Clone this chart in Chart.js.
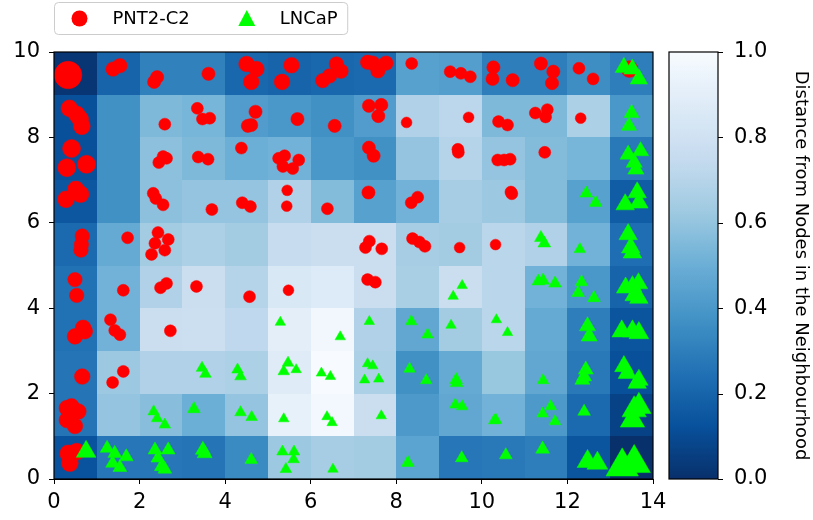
<!DOCTYPE html>
<html>
<head>
<meta charset="utf-8">
<script src="https://cdn.jsdelivr.net/npm/chart.js@4/dist/chart.umd.min.js"></script>
<style>
  html, body { margin: 0; padding: 0; background: #fff; }
</style>
</head>
<body>
<canvas id="chart" width="813" height="520"></canvas>
<script>
// Distance map, one row per node row, top row (y 9..10) first, 14 columns each
const distRows = [
  [0.02, 0.20, 0.31, 0.31, 0.21, 0.20, 0.21, 0.22, 0.44, 0.43, 0.30, 0.30, 0.36, 0.30],
  [0.12, 0.37, 0.55, 0.53, 0.42, 0.40, 0.37, 0.42, 0.68, 0.72, 0.55, 0.55, 0.67, 0.40],
  [0.12, 0.37, 0.58, 0.55, 0.50, 0.52, 0.40, 0.37, 0.60, 0.70, 0.60, 0.56, 0.53, 0.28],
  [0.15, 0.37, 0.58, 0.60, 0.60, 0.68, 0.56, 0.44, 0.52, 0.65, 0.62, 0.56, 0.44, 0.17],
  [0.22, 0.48, 0.64, 0.67, 0.64, 0.76, 0.77, 0.77, 0.65, 0.64, 0.71, 0.68, 0.52, 0.24],
  [0.25, 0.52, 0.68, 0.77, 0.70, 0.85, 0.87, 0.77, 0.66, 0.77, 0.71, 0.52, 0.40, 0.20],
  [0.25, 0.52, 0.77, 0.78, 0.73, 0.90, 0.97, 0.68, 0.47, 0.64, 0.71, 0.48, 0.30, 0.14],
  [0.26, 0.62, 0.68, 0.68, 0.67, 0.88, 1.00, 0.67, 0.37, 0.48, 0.61, 0.47, 0.28, 0.12],
  [0.26, 0.60, 0.57, 0.50, 0.60, 0.92, 0.98, 0.77, 0.41, 0.47, 0.52, 0.41, 0.22, 0.07],
  [0.13, 0.27, 0.27, 0.26, 0.35, 0.62, 0.65, 0.64, 0.45, 0.27, 0.28, 0.30, 0.14, 0.00]
];

// samples as [x, y, relative marker size]
const pntPoints = [
  [0.33, 9.46, 2.3], [1.38, 9.6, 1.2], [1.54, 9.68, 1.2], [2.34, 9.3, 1.1], [2.41, 9.41, 1.1],
  [3.61, 9.49, 1.1], [4.5, 9.72, 1.3], [4.73, 9.6, 1.3], [4.61, 9.3, 1.3], [5.55, 9.69, 1.3],
  [5.33, 9.3, 1.3], [6.28, 9.33, 1.2], [6.44, 9.44, 1.2], [6.6, 9.72, 1.2], [6.71, 9.55, 1.2],
  [7.33, 9.76, 1.2], [7.45, 9.74, 1.2], [7.57, 9.56, 1.2], [7.76, 9.74, 1.2], [8.36, 9.73, 1],
  [9.26, 9.54, 1], [9.51, 9.5, 1], [9.73, 9.42, 1], [10.27, 9.64, 1.1], [10.25, 9.37, 1.1],
  [10.72, 9.34, 1.1], [11.38, 9.73, 1.1], [11.67, 9.54, 1.1], [11.64, 9.27, 1.1],
  [12.27, 9.62, 1], [12.6, 9.37, 1], [13.45, 9.6, 1.4],
  [0.36, 8.68, 1.4], [0.53, 8.54, 1.4], [0.61, 8.43, 1.4], [0.65, 8.26, 1.4], [2.59, 8.31, 1],
  [3.35, 8.68, 1], [3.47, 8.43, 1], [3.64, 8.45, 1], [4.71, 8.6, 1.1], [4.53, 8.27, 1.1],
  [4.61, 8.29, 1.1], [5.69, 8.43, 1.1], [6.56, 8.27, 1.1], [7.36, 8.74, 1.1], [7.65, 8.76, 1.1],
  [7.58, 8.5, 1.1], [8.24, 8.35, 0.9], [9.69, 8.47, 0.9], [10.39, 8.37, 1], [10.6, 8.29, 1],
  [11.25, 8.57, 1], [11.53, 8.65, 1], [11.49, 8.48, 1], [12.31, 8.45, 0.9],
  [0.41, 7.74, 1.5], [0.3, 7.29, 1.5], [0.76, 7.37, 1.5], [2.55, 7.55, 1], [2.63, 7.51, 1],
  [2.45, 7.41, 1], [3.37, 7.54, 1], [3.6, 7.49, 1], [4.38, 7.75, 1], [5.25, 7.51, 1],
  [5.39, 7.57, 1], [5.35, 7.32, 1], [5.58, 7.27, 1], [5.72, 7.47, 1], [7.36, 7.76, 1.1],
  [7.47, 7.57, 1.1], [9.44, 7.72, 1], [9.45, 7.65, 1], [10.37, 7.47, 1], [10.52, 7.47, 1],
  [10.66, 7.49, 1], [11.47, 7.65, 1],
  [0.51, 6.78, 1.4], [0.62, 6.67, 1.4], [0.28, 6.55, 1.4], [2.32, 6.69, 1], [2.38, 6.57, 1],
  [2.55, 6.42, 1], [3.69, 6.31, 1], [4.4, 6.47, 1], [4.59, 6.38, 1], [5.45, 6.76, 0.9],
  [5.44, 6.39, 0.9], [6.39, 6.33, 1], [7.35, 6.71, 1.1], [8.35, 6.47, 1], [8.5, 6.6, 1],
  [10.68, 6.72, 1], [10.7, 6.68, 1],
  [0.66, 5.69, 1.2], [0.64, 5.49, 1.2], [0.63, 5.36, 1.2], [1.72, 5.65, 1], [2.43, 5.77, 1],
  [2.67, 5.61, 1], [2.36, 5.52, 1], [2.59, 5.36, 1], [2.28, 5.26, 1], [7.37, 5.57, 1],
  [7.28, 5.42, 1], [7.66, 5.39, 1], [8.38, 5.63, 1], [8.54, 5.55, 1], [8.67, 5.45, 1],
  [9.48, 5.42, 0.9], [10.32, 5.49, 0.9],
  [0.49, 4.67, 1.2], [0.53, 4.3, 1.2], [1.62, 4.42, 1], [2.49, 4.48, 1], [2.63, 4.58, 1],
  [3.33, 4.51, 1], [4.57, 4.27, 1], [5.48, 4.42, 0.9], [7.33, 4.67, 1], [7.51, 4.61, 1],
  [0.49, 3.34, 1.3], [0.68, 3.54, 1.3], [0.72, 3.46, 1.3], [1.32, 3.73, 1], [1.42, 3.48, 1],
  [1.54, 3.38, 1], [2.72, 3.47, 1],
  [0.66, 2.4, 1.3], [1.62, 2.52, 1], [1.37, 2.26, 1],
  [0.3, 1.66, 1.3], [0.41, 1.7, 1.3], [0.57, 1.58, 1.3], [0.3, 1.38, 1.3], [0.49, 1.24, 1.3],
  [0.33, 0.6, 1.4], [0.37, 0.37, 1.4], [0.53, 0.64, 1.4]
];

const lncapPoints = [
  [13.32, 9.64, 1.5], [13.52, 9.6, 1.5], [13.67, 9.37, 1.5],
  [13.5, 8.57, 1.3], [13.44, 8.27, 1.3],
  [13.42, 7.6, 1.4], [13.71, 7.68, 1.4], [13.56, 7.41, 1.4], [13.6, 7.25, 1.4],
  [12.44, 6.69, 1.1], [12.66, 6.47, 1.1], [13.35, 6.43, 1.6], [13.63, 6.71, 1.6], [13.67, 6.47, 1.6],
  [11.38, 5.65, 1.1], [11.46, 5.52, 1.1], [12.29, 5.38, 1], [13.42, 5.73, 1.6], [13.48, 5.42, 1.6],
  [13.52, 5.3, 1.6],
  [9.54, 4.53, 0.9], [9.33, 4.28, 0.9], [11.32, 4.63, 1.1], [11.43, 4.65, 1.1], [11.71, 4.58, 1.1],
  [12.33, 4.61, 1.1], [12.25, 4.36, 1.1], [12.62, 4.24, 1.1], [13.36, 4.48, 1.6], [13.52, 4.51, 1.6],
  [13.66, 4.58, 1.6], [13.56, 4.3, 1.6], [13.67, 4.24, 1.6],
  [5.29, 3.67, 0.9], [6.69, 3.33, 0.9], [7.37, 3.69, 0.9], [8.35, 3.69, 1], [8.73, 3.38, 1],
  [9.28, 3.6, 0.9], [10.34, 3.73, 0.9], [10.6, 3.43, 0.9], [12.47, 3.58, 1.4], [12.51, 3.34, 1.4],
  [13.27, 3.46, 1.7], [13.52, 3.46, 1.7], [13.67, 3.42, 1.7],
  [3.46, 2.6, 1], [3.54, 2.46, 1], [4.29, 2.56, 1], [4.36, 2.4, 1], [5.47, 2.72, 1], [5.37, 2.52, 1],
  [5.66, 2.56, 0.9], [6.25, 2.48, 0.9], [6.46, 2.4, 0.9], [7.33, 2.7, 0.9], [7.45, 2.65, 0.9],
  [7.26, 2.32, 0.9], [7.59, 2.34, 0.9], [8.31, 2.58, 1], [8.7, 2.31, 1], [9.4, 2.32, 1.1],
  [9.41, 2.25, 1.1], [11.43, 2.31, 1], [12.43, 2.56, 1.3], [12.39, 2.4, 1.3], [12.35, 2.32, 1.3],
  [13.32, 2.64, 1.6], [13.4, 2.48, 1.6], [13.67, 2.32, 1.6], [13.63, 2.25, 1.6],
  [2.33, 1.58, 1], [2.41, 1.42, 1], [2.59, 1.27, 1], [3.27, 1.64, 1.1], [4.36, 1.56, 1],
  [4.62, 1.45, 1], [5.37, 1.41, 0.9], [6.38, 1.46, 0.9], [6.5, 1.32, 0.9], [7.65, 1.48, 0.9],
  [9.38, 1.74, 1], [9.54, 1.7, 1], [10.29, 1.37, 1], [10.33, 1.38, 1], [11.42, 1.53, 1],
  [11.61, 1.7, 1], [11.71, 1.35, 1], [12.39, 1.58, 1.1], [13.56, 1.62, 2.1], [13.67, 1.7, 2.1],
  [13.52, 1.38, 2.1],
  [0.75, 0.64, 1.7], [1.24, 0.72, 1.2], [1.42, 0.6, 1.2], [1.69, 0.52, 1.2], [1.37, 0.37, 1.2],
  [1.54, 0.27, 1.2], [2.36, 0.68, 1.2], [2.67, 0.68, 1.2], [2.43, 0.49, 1.2], [2.51, 0.29, 1.2],
  [2.59, 0.23, 1.2], [3.48, 0.68, 1.3], [3.52, 0.6, 1.3], [4.61, 0.45, 1.1], [5.34, 0.64, 1],
  [5.61, 0.64, 1], [5.6, 0.46, 1], [5.42, 0.23, 1], [6.52, 0.23, 0.9], [8.27, 0.38, 1.1],
  [9.53, 0.49, 1.1], [10.56, 0.56, 1.1], [11.42, 0.7, 1.2], [12.47, 0.41, 1.8], [12.7, 0.37, 1.8],
  [13.28, 0.29, 2.8], [13.56, 0.37, 2.8]
];

const seriesNames = ['PNT2-C2', 'LNCaP'];
const xTicksMax = 14;
const yTicksMax = 10;
const cbarTitle = 'Distance from Nodes in the Neighbourhood';

// matplotlib "Blues", used reversed (0 = dark, 1 = white)
const BLUES = [[247,251,255],[222,235,247],[198,219,239],[158,202,225],[107,174,214],
               [66,146,198],[33,113,181],[8,81,156],[8,48,107]];
function bluesR(v) {
  const t = Math.max(0, Math.min(1, 1 - v)) * 8;
  const i = Math.min(7, Math.floor(t));
  const f = t - i;
  const c = BLUES[i].map((a, k) => Math.round(a + (BLUES[i + 1][k] - a) * f));
  return `rgb(${c[0]},${c[1]},${c[2]})`;
}

const FONT = 'DejaVu Sans';

// heatmap cells under the points
const heatmapPlugin = {
  id: 'heatmap',
  beforeDatasetsDraw(chart) {
    const { ctx, scales: { x, y } } = chart;
    ctx.save();
    distRows.forEach((row, r) => {
      const y0 = yTicksMax - 1 - r;
      row.forEach((v, c) => {
        const left = Math.round(x.getPixelForValue(c));
        const right = Math.round(x.getPixelForValue(c + 1));
        const top = Math.round(y.getPixelForValue(y0 + 1));
        const bottom = Math.round(y.getPixelForValue(y0));
        ctx.fillStyle = bluesR(v);
        ctx.fillRect(left, top, right - left, bottom - top);
      });
    });
    ctx.restore();
  },
  afterDatasetsDraw(chart) {
    const { ctx, chartArea: a } = chart;
    ctx.save();
    ctx.strokeStyle = '#000';
    ctx.lineWidth = 1.2;
    ctx.strokeRect(a.left, a.top, a.right - a.left, a.bottom - a.top);
    ctx.restore();
  }
};

// colour bar next to the plot, tick positions from the 'cb' scale
const colorbarPlugin = {
  id: 'colorbar',
  afterDraw(chart) {
    const { ctx, chartArea: a, scales: { cb } } = chart;
    const left = a.right + 16, width = 49;
    const top = cb.getPixelForValue(1), bottom = cb.getPixelForValue(0);
    ctx.save();
    const g = ctx.createLinearGradient(0, bottom, 0, top);
    for (let i = 0; i <= 40; i++) g.addColorStop(i / 40, bluesR(i / 40));
    ctx.fillStyle = g;
    ctx.fillRect(left, top, width, bottom - top);
    ctx.strokeStyle = '#000';
    ctx.lineWidth = 1.2;
    ctx.strokeRect(left, top, width, bottom - top);
    ctx.lineWidth = 1;
    cb.ticks.forEach(t => {
      const py = Math.round(cb.getPixelForValue(t.value)) + 0.5;
      ctx.beginPath();
      ctx.moveTo(left + width, py);
      ctx.lineTo(left + width + 5, py);
      ctx.stroke();
    });
    ctx.restore();
  }
};

// boxed legend above the plot
const legendPlugin = {
  id: 'boxLegend',
  afterDraw(chart) {
    const { ctx } = chart;
    ctx.save();
    ctx.font = `18px "${FONT}"`;
    ctx.textBaseline = 'middle';
    const bx = 54.5, by = 2.5, bh = 32, cy = by + bh / 2;
    const items = chart.data.datasets;
    let x = bx + 25;
    const widths = items.map(d => ctx.measureText(d.label).width);
    const bw = 25 + widths[0] + 33 + 57 + widths[1] + 33 + 10;
    ctx.fillStyle = 'rgba(255,255,255,0.8)';
    ctx.strokeStyle = '#cccccc';
    ctx.lineWidth = 1;
    ctx.beginPath();
    ctx.roundRect(bx, by, bw, bh, 4);
    ctx.fill();
    ctx.stroke();
    items.forEach((d, i) => {
      ctx.fillStyle = d.backgroundColor;
      ctx.beginPath();
      if (d.pointStyle === 'triangle') {
        ctx.moveTo(x, cy - 8.5);
        ctx.lineTo(x + 8.5, cy + 7.5);
        ctx.lineTo(x - 8.5, cy + 7.5);
        ctx.closePath();
      } else {
        ctx.arc(x, cy, 8, 0, Math.PI * 2);
      }
      ctx.fill();
      ctx.fillStyle = '#000';
      ctx.fillText(d.label, x + 33, cy + 1);
      x += 33 + widths[i] + 57;
    });
    ctx.restore();
  }
};

const toPoints = arr => arr.map(([x, y, s]) => ({ x, y, s }));

// axis label overflow is handled by the fixed layout, so drop the scale's own padding
const noPad = s => { s.paddingTop = 0; s.paddingBottom = 0; };

new Chart(document.getElementById('chart'), {
  type: 'scatter',
  data: {
    datasets: [
      {
        label: seriesNames[0],
        data: toPoints(pntPoints),
        backgroundColor: '#ff0000',
        borderColor: '#ff0000',
        borderWidth: 0.5,
        pointStyle: 'circle',
        pointRadius: c => 6 * c.raw.s,
        order: 1
      },
      {
        label: seriesNames[1],
        data: toPoints(lncapPoints),
        backgroundColor: '#00ff00',
        borderColor: '#00ff00',
        borderWidth: 0.5,
        pointStyle: 'triangle',
        pointRadius: c => 6.7 * c.raw.s,
        order: 0
      }
    ]
  },
  options: {
    responsive: false,
    animation: false,
    events: [],
    layout: { padding: { top: 52, left: 0, right: 0, bottom: 0 } },
    plugins: { legend: { display: false }, tooltip: { enabled: false } },
    scales: {
      x: {
        type: 'linear', min: 0, max: xTicksMax,
        ticks: { stepSize: 2, color: '#000', font: { family: FONT, size: 21 }, padding: 6 },
        grid: { drawOnChartArea: false, tickLength: 5, color: '#000' },
        border: { display: true, color: '#000' },
        afterFit: s => { s.height = 41; s.paddingLeft = 0; s.paddingRight = 0; }
      },
      y: {
        type: 'linear', min: 0, max: yTicksMax,
        ticks: { stepSize: 2, color: '#000', font: { family: FONT, size: 21 }, padding: 9 },
        grid: { drawOnChartArea: false, tickLength: 5, color: '#000' },
        border: { display: true, color: '#000' },
        afterFit: s => { s.width = 54; noPad(s); }
      },
      cb: {
        type: 'linear', position: 'right', min: 0, max: 1,
        ticks: { stepSize: 0.2, color: '#000', font: { family: FONT, size: 21 }, padding: 81,
                 callback: v => v.toFixed(1) },
        grid: { display: false, drawTicks: false },
        border: { display: false },
        title: { display: true, text: cbarTitle, color: '#000',
                 font: { family: FONT, size: 18 }, padding: { top: 2, bottom: 0 } },
        afterFit: s => { s.width = 160; noPad(s); }
      }
    }
  },
  plugins: [heatmapPlugin, colorbarPlugin, legendPlugin]
});
</script>
</body>
</html>
